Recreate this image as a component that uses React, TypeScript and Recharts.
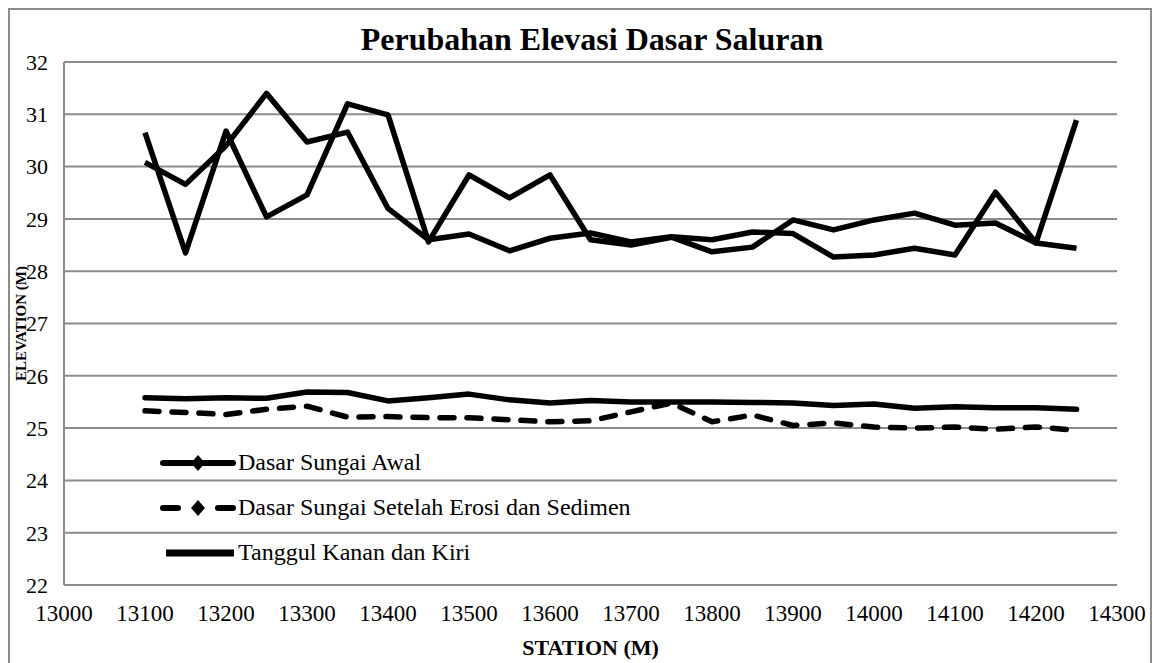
import React from 'react';
import { LineChart, Line, XAxis, YAxis, CartesianGrid } from 'recharts';

// station (m) every 50 m
const stations = [
  13100, 13150, 13200, 13250, 13300, 13350, 13400, 13450, 13500, 13550, 13600, 13650,
  13700, 13750, 13800, 13850, 13900, 13950, 14000, 14050, 14100, 14150, 14200, 14250,
];

const dasarAwal = [
  25.58, 25.56, 25.58, 25.57, 25.69, 25.68, 25.52, 25.58, 25.65, 25.54, 25.48, 25.53,
  25.5, 25.5, 25.5, 25.49, 25.48, 25.43, 25.46, 25.38, 25.41, 25.39, 25.39, 25.36,
];

const dasarSetelah = [
  25.33, 25.3, 25.26, 25.36, 25.42, 25.21, 25.22, 25.2, 25.2, 25.16, 25.12, 25.14,
  25.31, 25.48, 25.12, 25.25, 25.05, 25.1, 25.02, 25.0, 25.02, 24.98, 25.02, 24.96,
];

const tanggulKanan = [
  30.65, 28.35, 30.68, 29.04, 29.46, 31.2, 30.99, 28.56, 29.84, 29.4, 29.84, 28.6,
  28.5, 28.65, 28.37, 28.46, 28.98, 28.79, 28.98, 29.11, 28.88, 28.92, 28.54, 28.44,
];

const tanggulKiri = [
  30.08, 29.66, 30.4, 31.4, 30.47, 30.66, 29.2, 28.6, 28.71, 28.39, 28.63, 28.73,
  28.56, 28.66, 28.6, 28.75, 28.72, 28.27, 28.31, 28.44, 28.31, 29.51, 28.54, 30.89,
];

const xTicks = [
  13000, 13100, 13200, 13300, 13400, 13500, 13600, 13700, 13800, 13900, 14000, 14100,
  14200, 14300,
];
const yTicks = [22, 23, 24, 25, 26, 27, 28, 29, 30, 31, 32];

const data = stations.map((s, i) => ({
  station: s,
  awal: dasarAwal[i],
  setelah: dasarSetelah[i],
  kanan: tanggulKanan[i],
  kiri: tanggulKiri[i],
}));

const FONT = '"Liberation Serif", "Times New Roman", serif';
const GRID = '#8c8c8c';

const ElevationLabel = (props: any) => {
  const vb = props.viewBox || { x: 0, y: 0, width: 0, height: 0 };
  const x = vb.x + 13;
  const y = vb.y + vb.height / 2;
  return (
    <text
      x={x}
      y={y}
      transform={`rotate(-90, ${x}, ${y})`}
      textAnchor="middle"
      dominantBaseline="central"
      fontFamily={FONT}
      fontWeight={700}
      fontSize={15}
      fill="#000"
    >
      ELEVATION (M)
    </text>
  );
};

const legendItems = [
  { name: 'Dasar Sungai Awal', kind: 'solidMarker' },
  { name: 'Dasar Sungai Setelah Erosi dan Sedimen', kind: 'dashMarker' },
  { name: 'Tanggul Kanan dan Kiri', kind: 'solid' },
];

const LegendIcon = ({ kind }: { kind: string }) => (
  <svg width={76} height={20} style={{ display: 'block' }}>
    {kind === 'solidMarker' && (
      <>
        <line x1={3} y1={10} x2={73} y2={10} stroke="#000" strokeWidth={6} strokeLinecap="round" />
        <path d="M38 2 L45 10 L38 18 L31 10 Z" fill="#000" />
      </>
    )}
    {kind === 'dashMarker' && (
      <>
        <line x1={3} y1={10} x2={18} y2={10} stroke="#000" strokeWidth={6} strokeLinecap="round" />
        <path d="M38 2 L45 10 L38 18 L31 10 Z" fill="#000" />
        <line x1={58} y1={10} x2={73} y2={10} stroke="#000" strokeWidth={6} strokeLinecap="round" />
      </>
    )}
    {kind === 'solid' && <line x1={6} y1={10} x2={74} y2={10} stroke="#000" strokeWidth={7} />}
  </svg>
);

export default function App() {
  return (
    <div
      style={{
        position: 'relative',
        width: 1144,
        height: 660,
        border: `2px solid ${GRID}`,
        boxSizing: 'border-box',
        background: '#fff',
        fontFamily: FONT,
      }}
    >
      <div
        style={{
          position: 'absolute',
          left: 0,
          top: 11,
          width: 1164,
          textAlign: 'center',
          fontSize: 32,
          fontWeight: 700,
          color: '#000',
          lineHeight: '36px',
        }}
      >
        Perubahan Elevasi Dasar Saluran
      </div>

      <div style={{ position: 'absolute', left: -2, top: -2 }}>
        <LineChart
          width={1144}
          height={657}
          data={data}
          margin={{ top: 54, right: 35, left: 0, bottom: 0 }}
        >
          <CartesianGrid vertical={false} stroke={GRID} strokeWidth={2} />
          <XAxis
            dataKey="station"
            type="number"
            domain={[13000, 14300]}
            ticks={xTicks}
            interval={0}
            height={80}
            tickLine={false}
            axisLine={{ stroke: GRID, strokeWidth: 2 }}
            tickMargin={14}
            tick={{ fill: '#000', fontSize: 23, fontFamily: FONT }}
            label={{
              value: 'STATION (M)',
              position: 'insideBottom',
              offset: 10,
              style: { fill: '#000', fontSize: 22, fontWeight: 700, fontFamily: FONT },
            }}
          />
          <YAxis
            type="number"
            domain={[22, 32]}
            ticks={yTicks}
            interval={0}
            width={56}
            tickLine={false}
            axisLine={{ stroke: GRID, strokeWidth: 2 }}
            tickMargin={10}
            tick={{ fill: '#000', fontSize: 22, fontFamily: FONT }}
            label={<ElevationLabel />}
          />
          <Line
            name="Dasar Sungai Awal"
            type="linear"
            dataKey="awal"
            stroke="#000"
            strokeWidth={5.5}
            strokeLinejoin="round"
            strokeLinecap="round"
            dot={false}
            isAnimationActive={false}
          />
          <Line
            name="Dasar Sungai Setelah Erosi dan Sedimen"
            type="linear"
            dataKey="setelah"
            stroke="#000"
            strokeWidth={5.5}
            strokeDasharray="14 13"
            strokeLinejoin="round"
            strokeLinecap="round"
            dot={false}
            isAnimationActive={false}
          />
          <Line
            name="Tanggul Kanan"
            type="linear"
            dataKey="kanan"
            stroke="#000"
            strokeWidth={5.5}
            strokeLinejoin="round"
            dot={false}
            isAnimationActive={false}
          />
          <Line
            name="Tanggul Kiri"
            type="linear"
            dataKey="kiri"
            stroke="#000"
            strokeWidth={5.5}
            strokeLinejoin="round"
            dot={false}
            isAnimationActive={false}
          />
        </LineChart>
      </div>

      <div style={{ position: 'absolute', left: 150, top: 430 }}>
        {legendItems.map((it) => (
          <div
            key={it.name}
            style={{ display: 'flex', alignItems: 'center', height: 45, fontSize: 24, color: '#000' }}
          >
            <LegendIcon kind={it.kind} />
            <span style={{ marginLeft: 2 }}>{it.name}</span>
          </div>
        ))}
      </div>
    </div>
  );
}
